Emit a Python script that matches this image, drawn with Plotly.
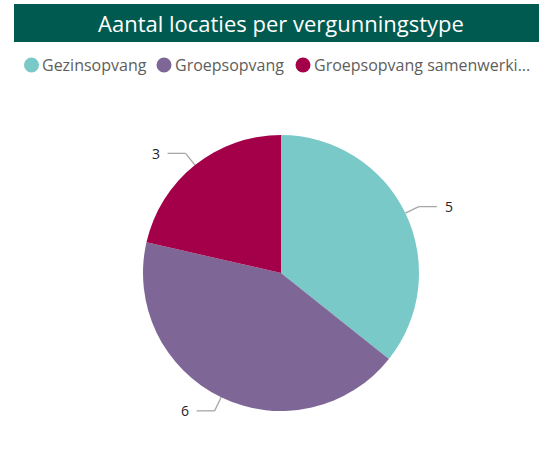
import math
import plotly.graph_objects as go

# ---- data ----
categories = ["Gezinsopvang", "Groepsopvang", "Groepsopvang samenwerki..."]
values = [5, 6, 3]
colors = ["#79C9C8", "#7E6797", "#A4004A"]
title_text = "Aantal locaties per vergunningstype"

# ---- layout geometry (pixels) ----
W, H = 539, 460
CX, CY, R = 281, 273, 138
FONT = "Open Sans"
LEGEND_Y = 65
LEGEND_X = [31.5, 164, 303]   # marker centre of each legend item

fig = go.Figure()

fig.add_trace(go.Pie(
    labels=categories,
    values=values,
    marker=dict(colors=colors, line=dict(width=0)),
    sort=False,
    direction="clockwise",
    rotation=0,
    textinfo="none",
    hoverinfo="label+value",
    showlegend=False,
    domain=dict(x=[(CX - R) / W, (CX + R) / W], y=[(H - CY - R) / H, (H - CY + R) / H]),
))

def px2paper(x, y):
    return x / W, 1 - y / H

shapes = []
annotations = []

# title bar
shapes.append(dict(type="rect", xref="paper", yref="paper",
                   x0=14 / W, x1=1.0, y0=1 - 42 / H, y1=1 - 4 / H,
                   fillcolor="#005A4F", line=dict(width=0), layer="below"))
annotations.append(dict(text=title_text, xref="paper", yref="paper",
                        x=281 / W, y=1 - 23 / H, xanchor="center", yanchor="middle",
                        showarrow=False, font=dict(family=FONT, size=22, color="white")))

# legend: circle markers + names
for name, col, mx in zip(categories, colors, LEGEND_X):
    r = 7.5
    x0, y0 = px2paper(mx - r, LEGEND_Y + r)
    x1, y1 = px2paper(mx + r, LEGEND_Y - r)
    shapes.append(dict(type="circle", xref="paper", yref="paper",
                       x0=x0, y0=y0, x1=x1, y1=y1,
                       fillcolor=col, line=dict(width=0)))
    tx, ty = px2paper(mx + r + 1, LEGEND_Y)
    annotations.append(dict(text=name, xref="paper", yref="paper", x=tx, y=ty,
                            xanchor="left", yanchor="middle", showarrow=False,
                            font=dict(family=FONT, size=16, color="#605E5C")))

# data labels with leader lines, derived from the values
total = sum(values)
cum = 0
for v in values:
    mid = (cum + v / 2) / total * 2 * math.pi  # clockwise from top
    cum += v
    sx, sy = math.sin(mid), -math.cos(mid)
    ex, ey = CX + R * sx, CY + R * sy
    kx, ky = CX + (R + 15) * sx, CY + (R + 15) * sy
    side = 1 if sx >= 0 else -1
    hx = kx + side * 18
    for (a, b), (c, d) in [((ex, ey), (kx, ky)), ((kx, ky), (hx, ky))]:
        x0, y0 = px2paper(a, b)
        x1, y1 = px2paper(c, d)
        shapes.append(dict(type="line", xref="paper", yref="paper",
                           x0=x0, y0=y0, x1=x1, y1=y1,
                           line=dict(color="#A6A6A6", width=1.3)))
    tx, ty = px2paper(hx + side * 6, ky)
    annotations.append(dict(text=str(v), xref="paper", yref="paper", x=tx, y=ty,
                            xanchor="left" if side > 0 else "right", yanchor="middle",
                            showarrow=False, font=dict(family=FONT, size=14, color="#252423")))

fig.update_layout(
    width=W, height=H,
    margin=dict(l=0, r=0, t=0, b=0),
    paper_bgcolor="white", plot_bgcolor="white",
    showlegend=False,
    shapes=shapes, annotations=annotations,
    font=dict(family=FONT),
)

fig.write_html(
    "out.html",
    config={"displayModeBar": False},
    post_script="document.body.style.margin='0';document.body.style.overflow='hidden';",
)
